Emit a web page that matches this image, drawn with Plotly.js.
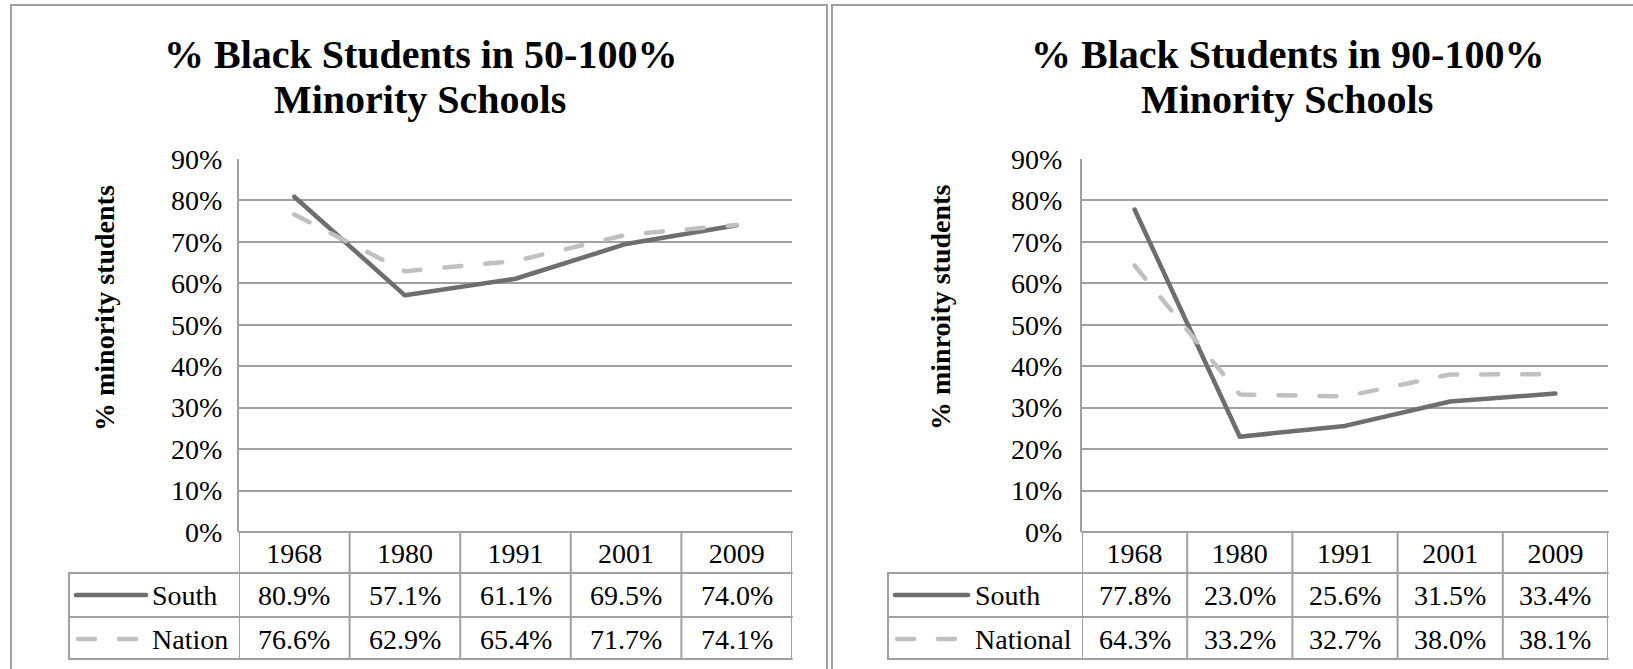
<!DOCTYPE html>
<html><head><meta charset="utf-8">
<script src="https://cdn.plot.ly/plotly-3.0.1.min.js"></script>
<style>
html,body{margin:0;padding:0;background:#fff;}
#chart{width:1633px;height:669px;}
.js-line{stroke-linecap:round;stroke-linejoin:round;}
.shapelayer path{stroke-linecap:round;}
</style>
</head><body><div id="chart"></div>
<script>
// ---------- data ----------
const years = ['1968', '1980', '1991', '2001', '2009'];
const southA = [80.9, 57.1, 61.1, 69.5, 74.0];
const nationA = [76.6, 62.9, 65.4, 71.7, 74.1];
const southB = [77.8, 23.0, 25.6, 31.5, 33.4];
const nationalB = [64.3, 33.2, 32.7, 38.0, 38.1];
const namesA = ['South', 'Nation'];
const namesB = ['South', 'National'];
const titleA = ['% Black Students in 50-100%', 'Minority Schools'];
const titleB = ['% Black Students in 90-100%', 'Minority Schools'];
const yTitleA = '% minority students';
const yTitleB = '% minroity students';
const yTickVals = [0, 10, 20, 30, 40, 50, 60, 70, 80, 90];
const yTickText = ['0%', '10%', '20%', '30%', '40%', '50%', '60%', '70%', '80%', '90%'];

// ---------- layout helpers ----------
const W = 1633, H = 669;
const px = x => x / W;
const py = y => 1 - y / H;
const GRID = '#a0a0a0';
const SOUTH_C = '#6e6e6e';
const NATION_C = '#c0c0c0';
const SERIF = '"Liberation Serif", "Times New Roman", serif';
const DASH = '17px,24px';

const top90 = 159, zero = 532, rowLines = [532, 573, 617, 659];
const rowTextY = [554, 595, 639];
const titleLineY = [54.5, 99.5];

const panels = [
  {ax: 'x', ay: 'y', plotL: 239, plotR: 792, labelL: 69, yTitleX: 105, titleX: 420,
   keyX0: 76, keyX1: 146, nameX: 150, box: [11, 827], standoff: 9,
   south: southA, nation: nationA, names: namesA, title: titleA, yTitle: yTitleA},
  {ax: 'x2', ay: 'y2', plotL: 1082, plotR: 1608, labelL: 888, yTitleX: 941, titleX: 1287,
   keyX0: 895, keyX1: 968, nameX: 973, box: [832, 1660], standoff: 12,
   south: southB, nation: nationalB, names: namesB, title: titleB, yTitle: yTitleB}
];

const traces = [], shapes = [], annotations = [];
const layout = {
  width: W, height: H,
  margin: {l: 0, r: 0, t: 0, b: 0},
  paper_bgcolor: '#ffffff', plot_bgcolor: 'rgba(0,0,0,0)',
  showlegend: false,
  font: {family: SERIF, size: 28, color: '#000'}
};

panels.forEach((p, i) => {
  const sfx = i === 0 ? '' : '2';
  const xr = p.ax, yr = p.ay;
  traces.push({
    x: years, y: p.south, xaxis: xr, yaxis: yr, type: 'scatter', mode: 'lines',
    name: p.names[0], line: {color: SOUTH_C, width: 4.5}, hoverinfo: 'skip'
  });
  traces.push({
    x: years, y: p.nation, xaxis: xr, yaxis: yr, type: 'scatter', mode: 'lines',
    name: p.names[1], line: {color: NATION_C, width: 4.5, dash: DASH}, hoverinfo: 'skip'
  });
  layout['xaxis' + sfx] = {
    type: 'category', categoryarray: years, range: [-0.5, 4.5],
    domain: [px(p.plotL), px(p.plotR)], anchor: 'y' + sfx,
    showgrid: false, zeroline: false, showline: false, ticks: '',
    tickfont: {family: SERIF, size: 28, color: '#000'},
    ticklabelstandoff: 2, automargin: false, fixedrange: true
  };
  layout['yaxis' + sfx] = {
    range: [0, 90], tickmode: 'array', tickvals: yTickVals, ticktext: yTickText,
    domain: [py(zero), py(top90)], anchor: 'x' + sfx,
    showgrid: true, gridcolor: GRID, gridwidth: 2,
    showline: true, linecolor: GRID, linewidth: 2, zeroline: false, ticks: '',
    tickfont: {family: SERIF, size: 28, color: '#000'},
    ticklabelstandoff: p.standoff, automargin: false, fixedrange: true
  };
  // outer box
  shapes.push({type: 'rect', xref: 'paper', yref: 'paper',
    x0: px(p.box[0]), x1: px(p.box[1]), y0: py(5), y1: py(720),
    line: {color: GRID, width: 2}, fillcolor: 'rgba(0,0,0,0)', layer: 'below'});
  // data table horizontal lines
  shapes.push({type: 'line', xref: 'paper', yref: 'paper',
    x0: px(p.plotL), x1: px(p.plotR), y0: py(rowLines[0]), y1: py(rowLines[0]),
    line: {color: GRID, width: 2}});
  for (let k = 1; k < rowLines.length; k++) {
    shapes.push({type: 'line', xref: 'paper', yref: 'paper',
      x0: px(p.labelL), x1: px(p.plotR), y0: py(rowLines[k]), y1: py(rowLines[k]),
      line: {color: GRID, width: 2}});
  }
  // table vertical lines
  shapes.push({type: 'line', xref: 'paper', yref: 'paper',
    x0: px(p.labelL), x1: px(p.labelL), y0: py(rowLines[1]), y1: py(rowLines[3]),
    line: {color: GRID, width: 2}});
  for (let k = 0; k <= years.length; k++) {
    shapes.push({type: 'line', xref: xr, yref: 'paper',
      x0: k - 0.5, x1: k - 0.5, y0: py(rowLines[0]), y1: py(rowLines[3]),
      line: {color: GRID, width: 2}});
  }
  // legend keys
  shapes.push({type: 'line', xref: 'paper', yref: 'paper',
    x0: px(p.keyX0), x1: px(p.keyX1), y0: py(rowTextY[1]), y1: py(rowTextY[1]),
    line: {color: SOUTH_C, width: 4.5}});
  shapes.push({type: 'line', xref: 'paper', yref: 'paper',
    x0: px(p.keyX0 + 2), x1: px(p.keyX1 - 4), y0: py(rowTextY[2]), y1: py(rowTextY[2]),
    line: {color: NATION_C, width: 4.5, dash: DASH}});
  // row names
  [p.names[0], p.names[1]].forEach((n, r) => {
    annotations.push({xref: 'paper', yref: 'paper', x: px(p.nameX), y: py(rowTextY[r + 1]),
      xanchor: 'left', yanchor: 'middle', text: n, showarrow: false,
      font: {family: SERIF, size: 28, color: '#000'}});
  });
  // cell values
  [p.south, p.nation].forEach((vals, r) => {
    vals.forEach((v, c) => {
      annotations.push({xref: xr, yref: 'paper', x: c, y: py(rowTextY[r + 1]),
        xanchor: 'center', yanchor: 'middle', text: v.toFixed(1) + '%', showarrow: false,
        font: {family: SERIF, size: 28, color: '#000'}});
    });
  });
  // titles
  p.title.forEach((t, li) => {
    annotations.push({xref: 'paper', yref: 'paper', x: px(p.titleX), y: py(titleLineY[li]),
      xanchor: 'center', yanchor: 'middle',
      text: '<b>' + t + '</b>', showarrow: false,
      font: {family: SERIF, size: 40, color: '#000'}});
  });
  // y axis title
  annotations.push({xref: 'paper', yref: 'paper', x: px(p.yTitleX), y: py(308),
    xanchor: 'center', yanchor: 'middle', textangle: -90, text: '<b>' + p.yTitle + '</b>',
    showarrow: false, font: {family: SERIF, size: 28, color: '#000'}});
});

layout.shapes = shapes;
layout.annotations = annotations;

Plotly.newPlot('chart', traces, layout, {staticPlot: true, displayModeBar: false});
</script>
</body></html>
